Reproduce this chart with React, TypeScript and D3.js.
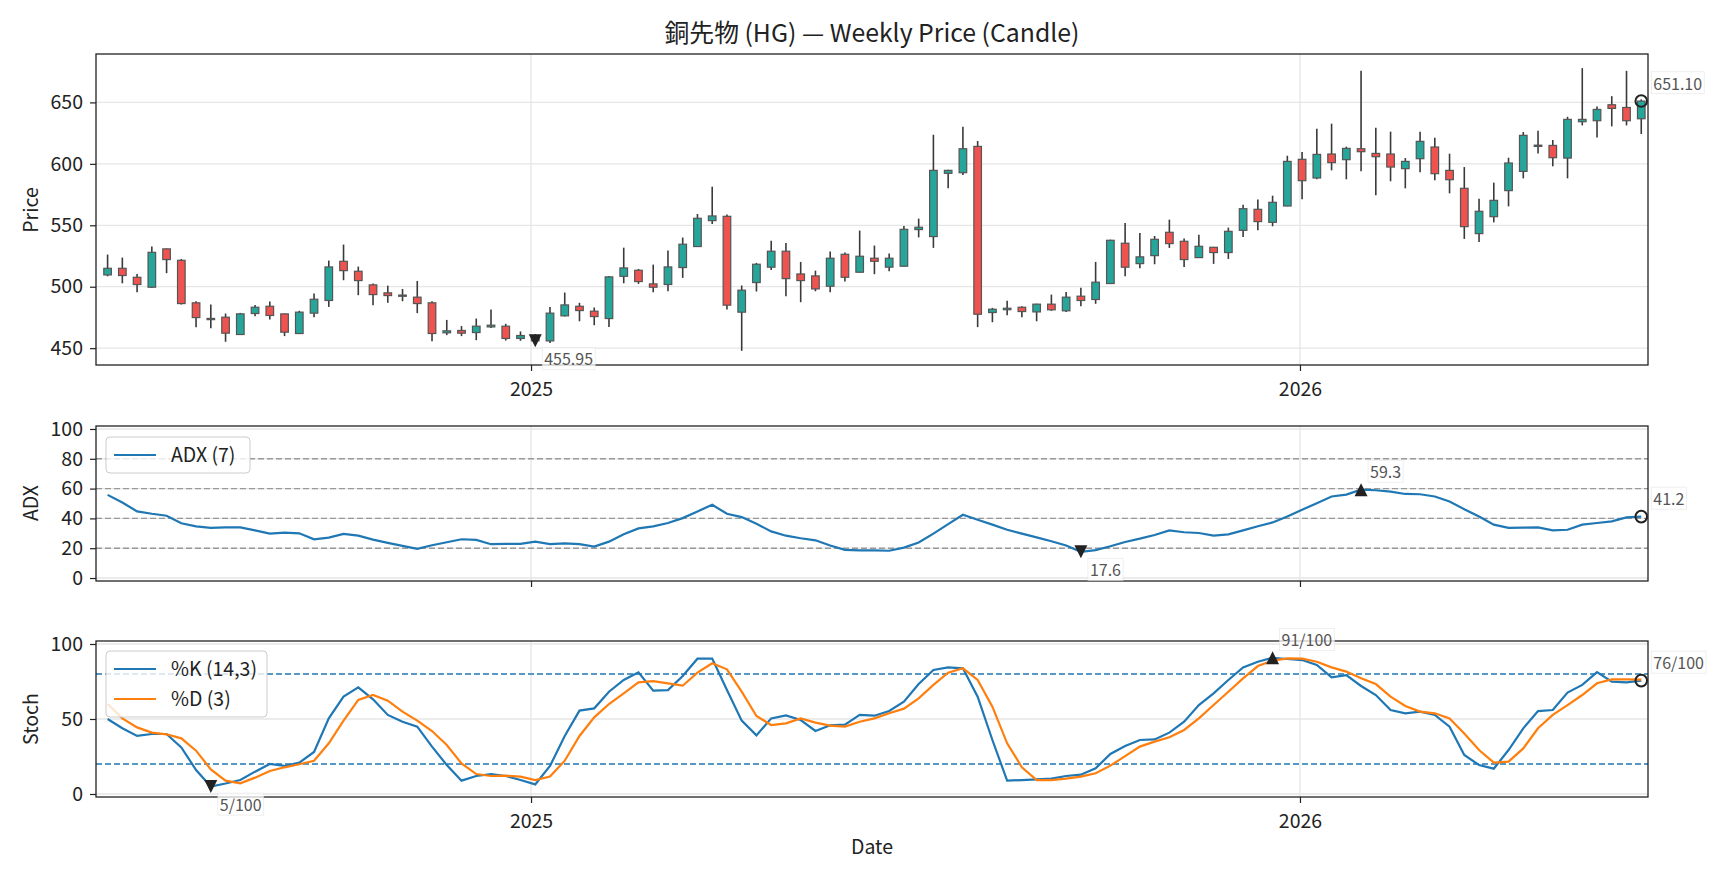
import React, { useEffect, useRef } from 'react';
import * as d3 from 'd3';

// weekly bars, Fridays
const weeks = d3.utcFriday.range(new Date(Date.UTC(2024, 5, 14)), new Date(Date.UTC(2026, 5, 13)));

const open = [
  509.6, 515.0, 507.7, 499.6, 530.8, 521.5, 486.9, 474.2, 475.2, 461.1,
  478.2, 484.1, 477.9, 461.9, 478.5, 488.8, 520.7, 512.6, 501.5, 495.0,
  492.8, 491.5, 486.9, 462.5, 464.4, 462.7, 467.3, 467.9, 457.9, 460.3,
  455.9, 476.3, 484.1, 480.1, 474.1, 508.5, 513.4, 502.3, 501.8, 515.6,
  532.7, 553.8, 557.3, 479.3, 503.4, 515.9, 528.9, 510.4, 508.8, 500.4,
  526.4, 511.8, 523.2, 515.9, 516.7, 546.5, 540.8, 592.3, 592.8, 614.2,
  479.0, 481.3, 483.3, 479.5, 485.8, 480.4, 492.3, 489.6, 502.6, 535.4,
  518.8, 525.3, 544.3, 537.0, 523.7, 532.1, 527.8, 545.9, 563.0, 552.4,
  565.7, 603.7, 588.5, 608.0, 603.4, 612.3, 608.5, 608.0, 596.1, 604.2,
  613.7, 594.7, 580.1, 543.2, 557.0, 578.2, 593.9, 615.2, 615.0, 604.7,
  634.3, 635.1, 648.1, 645.9, 636.7,
];
const high = [
  526.2, 523.7, 510.4, 532.7, 531.0, 522.6, 488.2, 485.5, 478.2, 478.7,
  485.2, 487.9, 478.0, 480.4, 494.4, 521.3, 534.3, 516.4, 502.6, 500.9,
  498.2, 504.7, 488.2, 473.0, 468.0, 474.1, 481.4, 469.8, 463.6, 461.5,
  483.6, 495.3, 486.9, 483.1, 508.8, 531.8, 514.5, 518.0, 529.4, 540.0,
  559.2, 581.4, 558.7, 501.0, 519.4, 537.5, 535.6, 520.2, 513.1, 528.6,
  527.8, 545.7, 533.5, 527.0, 549.5, 555.4, 623.7, 595.2, 630.2, 618.6,
  482.8, 488.5, 484.1, 486.2, 493.6, 495.8, 499.1, 520.2, 538.3, 551.9,
  543.8, 541.3, 554.6, 539.2, 542.4, 532.4, 548.1, 566.8, 570.9, 574.1,
  606.6, 609.6, 628.6, 632.7, 614.0, 675.7, 629.4, 626.2, 604.7, 626.2,
  621.3, 608.3, 597.4, 571.7, 584.7, 605.0, 625.9, 627.0, 619.4, 638.3,
  677.9, 646.7, 655.1, 675.7, 652.5,
];
const low = [
  508.5, 502.8, 495.5, 499.0, 511.0, 485.5, 467.1, 466.3, 455.2, 460.8,
  476.0, 473.3, 459.8, 461.5, 475.2, 483.6, 505.3, 493.1, 485.0, 486.9,
  488.2, 478.5, 455.7, 460.6, 459.8, 456.5, 466.5, 456.2, 456.0, 454.6,
  454.3, 475.8, 471.9, 468.7, 467.3, 502.8, 502.3, 495.5, 496.3, 507.2,
  532.5, 551.1, 481.4, 447.8, 496.1, 513.7, 492.3, 487.4, 496.3, 495.5,
  504.2, 511.5, 510.2, 512.6, 516.5, 540.2, 531.6, 580.1, 590.9, 467.1,
  471.1, 476.8, 475.2, 471.9, 480.4, 479.5, 484.1, 486.1, 502.4, 508.5,
  515.0, 518.3, 531.6, 516.1, 523.5, 518.6, 522.6, 540.5, 545.9, 549.2,
  565.5, 571.1, 587.4, 594.7, 587.4, 593.9, 574.4, 585.8, 580.1, 593.1,
  586.6, 576.0, 538.9, 536.5, 552.4, 565.4, 588.2, 608.5, 598.0, 588.2,
  631.3, 621.5, 630.5, 631.3, 624.3,
];
const close = [
  515.0, 509.1, 501.8, 528.0, 522.1, 486.3, 474.9, 473.8, 462.2, 477.9,
  483.3, 476.6, 463.0, 479.3, 489.8, 516.1, 513.1, 505.0, 493.6, 492.8,
  493.2, 486.3, 461.9, 464.1, 462.2, 467.9, 468.7, 457.9, 460.3, 455.95,
  478.5, 485.2, 480.6, 475.7, 508.0, 515.3, 504.2, 499.6, 516.1, 534.6,
  555.7, 557.6, 485.0, 497.2, 518.3, 528.9, 506.6, 505.0, 498.2, 523.2,
  507.7, 524.8, 520.7, 523.2, 546.7, 548.4, 594.7, 594.7, 612.3, 477.6,
  481.7, 482.5, 479.8, 485.8, 481.2, 491.5, 488.8, 503.7, 537.8, 515.9,
  524.3, 538.6, 535.1, 522.1, 532.9, 527.8, 545.1, 563.5, 553.0, 568.7,
  602.0, 586.3, 607.7, 601.0, 612.6, 609.9, 605.8, 597.4, 602.0, 618.3,
  592.0, 587.1, 548.9, 561.4, 570.3, 600.7, 623.2, 614.6, 605.0, 636.2,
  636.2, 644.3, 645.1, 635.1, 651.1,
];

const adx = [
  55.8, 50.7, 44.7, 43.1, 41.8, 36.7, 34.7, 33.6, 34.0, 34.0,
  32.0, 29.8, 30.4, 30.0, 26.0, 27.1, 29.6, 28.4, 25.8, 23.6,
  21.6, 19.6, 22.0, 24.0, 26.0, 25.6, 22.7, 22.9, 22.9, 24.4,
  22.7, 23.3, 22.7, 21.1, 24.4, 29.3, 33.3, 34.7, 36.9, 40.2,
  44.7, 49.1, 43.1, 40.9, 36.4, 31.3, 28.4, 26.7, 25.3, 21.8,
  18.9, 18.6, 18.5, 18.3, 20.4, 23.8, 29.8, 36.2, 42.4, 39.1,
  35.8, 32.4, 29.8, 27.3, 24.7, 21.8, 17.6, 18.7, 21.3, 24.2,
  26.4, 28.9, 32.0, 30.7, 30.2, 28.4, 29.3, 32.0, 34.7, 37.3,
  41.3, 45.8, 50.2, 54.7, 56.0, 59.3, 58.9, 58.0, 56.4, 56.2,
  54.7, 51.3, 46.2, 41.3, 35.8, 33.6, 33.8, 34.0, 32.0, 32.4,
  35.8, 36.9, 38.0, 40.7, 41.2,
];

const stochK = [
  50.0, 43.8, 38.7, 40.0, 40.0, 31.1, 16.0, 5.0, 7.0, 9.3,
  14.9, 20.0, 18.7, 20.9, 28.0, 50.4, 64.9, 71.1, 63.1, 52.7,
  48.2, 44.9, 31.6, 19.3, 8.9, 12.0, 13.3, 12.0, 9.3, 6.4,
  18.7, 38.7, 55.6, 57.1, 68.2, 76.0, 81.1, 68.9, 69.3, 78.7,
  90.2, 90.3, 69.3, 48.9, 39.1, 50.4, 52.4, 49.3, 42.0, 45.8,
  46.2, 52.7, 52.2, 55.3, 61.6, 73.3, 82.7, 84.4, 83.8, 64.9,
  36.0, 8.9, 9.3, 9.8, 10.2, 12.0, 12.9, 17.1, 26.7, 32.0,
  36.0, 36.4, 40.9, 48.2, 59.3, 67.1, 76.0, 84.4, 88.2, 90.8,
  90.0, 89.3, 86.0, 77.8, 79.3, 72.0, 66.0, 56.0, 53.8, 54.9,
  52.7, 44.9, 26.0, 19.3, 16.9, 29.3, 43.8, 55.3, 56.0, 67.6,
  72.7, 81.3, 74.9, 74.4, 75.6,
];
const stochD = [
  60.0, 50.4, 44.4, 40.9, 39.8, 37.1, 28.9, 16.4, 8.9, 7.1,
  10.9, 15.3, 17.8, 19.8, 22.2, 33.8, 48.9, 62.7, 66.0, 62.2,
  54.9, 48.9, 42.0, 32.7, 20.4, 13.3, 12.0, 12.2, 11.6, 9.3,
  11.6, 22.2, 38.7, 51.1, 60.0, 67.1, 74.4, 75.3, 73.8, 72.2,
  80.9, 87.1, 83.1, 68.2, 52.0, 46.0, 47.1, 50.4, 47.6, 45.6,
  44.9, 48.2, 50.4, 53.8, 56.9, 63.8, 72.7, 80.9, 83.8, 76.0,
  58.2, 33.8, 17.8, 9.3, 9.3, 10.2, 11.6, 13.8, 18.9, 25.3,
  31.6, 34.9, 37.8, 42.7, 50.4, 59.3, 68.2, 77.1, 85.3, 88.9,
  90.4, 90.2, 88.2, 84.4, 81.6, 77.1, 73.3, 64.9, 58.7, 54.9,
  53.8, 50.4, 40.4, 29.3, 20.9, 21.6, 30.4, 43.8, 52.7, 59.3,
  66.0, 73.8, 76.4, 76.4, 76.2,
];

const priceTicks = [450, 500, 550, 600, 650];
const adxTicks = [0, 20, 40, 60, 80, 100];
const adxLevels = [20, 40, 60, 80];
const stochTicks = [0, 50, 100];
const stochLevels = [20, 80];
const yearTicks = [new Date(Date.UTC(2025, 0, 1)), new Date(Date.UTC(2026, 0, 1))];

const W = 1728;
const H = 878;
const L = 96;
const R = 1648;
const FONT = '"Noto Sans CJK JP", "Noto Sans", sans-serif';
const UP = '#26a69a';
const DOWN = '#ef5350';
const BLUE = '#1f77b4';
const ORANGE = '#ff7f0e';
const DAY = 864e5;

type G = d3.Selection<SVGGElement, unknown, null, undefined>;

const App: React.FC = () => {
  const svgRef = useRef<SVGSVGElement>(null);

  useEffect(() => {
    if (!svgRef.current) return;
    const svg = d3.select(svgRef.current);
    svg.selectAll('*').remove();

    const x = d3.scaleUtc()
      .domain([new Date(+weeks[0] - 5.5 * DAY), new Date(+weeks[weeks.length - 1] + 3.2 * DAY)])
      .range([L, R]);

    const lo = d3.min(low)!;
    const hi = d3.max(high)!;
    const pad = (hi - lo) * 0.05;
    const yPrice = d3.scaleLinear().domain([lo - pad, hi + pad]).range([365, 54]);
    const yAdx = d3.scaleLinear().domain([-2, 102]).range([581, 426]);
    const yStoch = d3.scaleLinear().domain([-2, 102]).range([797, 641]);

    svg.append('rect').attr('width', W).attr('height', H).attr('fill', '#fff');

    const grid = (g: G, y: d3.ScaleLinear<number, number>, ticks: number[], top: number, bottom: number) => {
      g.append('g').selectAll('line').data(ticks).join('line')
        .attr('x1', L).attr('x2', R)
        .attr('y1', d => y(d)).attr('y2', d => y(d))
        .attr('stroke', '#e6e6e6').attr('stroke-width', 1.3);
      g.append('g').selectAll('line').data(yearTicks).join('line')
        .attr('x1', d => x(d)).attr('x2', d => x(d))
        .attr('y1', top).attr('y2', bottom)
        .attr('stroke', '#e6e6e6').attr('stroke-width', 1.3);
    };

    const axes = (g: G, y: d3.ScaleLinear<number, number>, ticks: number[], top: number, bottom: number, labels: boolean) => {
      const ya = g.append('g').attr('transform', `translate(${L},0)`)
        .call(d3.axisLeft(y).tickValues(ticks).tickSize(6).tickPadding(7));
      const xa = g.append('g').attr('transform', `translate(0,${bottom})`)
        .call(d3.axisBottom(x).tickValues(yearTicks).tickSize(6).tickPadding(11)
          .tickFormat(d => (labels ? d3.utcFormat('%Y')(d as Date) : '')));
      [ya, xa].forEach(a => {
        a.attr('font-size', 19.5).attr('font-family', FONT);
        a.select('.domain').remove();
        a.selectAll('line').attr('stroke', '#222').attr('stroke-width', 1.2);
        a.selectAll('text').attr('fill', '#222');
      });
      g.append('rect')
        .attr('x', L).attr('y', top).attr('width', R - L).attr('height', bottom - top)
        .attr('fill', 'none').attr('stroke', '#222').attr('stroke-width', 1.3);
    };

    const yLabel = (text: string, cy: number) => {
      svg.append('text')
        .attr('transform', `translate(38,${cy}) rotate(-90)`)
        .attr('text-anchor', 'middle')
        .attr('font-family', FONT).attr('font-size', 19.5).attr('fill', '#222')
        .text(text);
    };

    // marker + value label; min labels go below, the others above
    const annotate = (g: G, cx: number, cy: number, label: string, kind: 'min' | 'max' | 'last') => {
      if (kind === 'min') {
        g.append('path').attr('d', `M${cx - 6.5},${cy - 6.5}L${cx + 6.5},${cy - 6.5}L${cx},${cy + 6.5}Z`).attr('fill', '#222');
      } else if (kind === 'max') {
        g.append('path').attr('d', `M${cx - 6.5},${cy + 6.5}L${cx + 6.5},${cy + 6.5}L${cx},${cy - 6.5}Z`).attr('fill', '#222');
      } else {
        g.append('circle').attr('cx', cx).attr('cy', cy).attr('r', 5.8)
          .attr('fill', 'none').attr('stroke', '#222').attr('stroke-width', 2);
      }
      const tx = cx + (kind === 'last' ? 12 : 9);
      const ty = cy + (kind === 'min' ? 19 : -17);
      const box = g.append('rect');
      const t = g.append('text')
        .attr('x', tx).attr('y', ty).attr('dy', '0.35em')
        .attr('font-family', FONT).attr('font-size', 16).attr('fill', '#555')
        .text(label);
      const bb = (t.node() as SVGTextElement).getBBox();
      box.attr('x', bb.x - 2).attr('y', bb.y + 1).attr('width', bb.width + 4).attr('height', bb.height - 2)
        .attr('fill', '#fff').attr('fill-opacity', 0.75)
        .attr('stroke', '#ddd').attr('stroke-opacity', 0.6).attr('stroke-width', 0.8);
    };

    const legend = (g: G, items: { label: string; color: string }[], top: number, width: number) => {
      const rowH = 30;
      const h = items.length * rowH + 6;
      g.append('rect')
        .attr('x', 106).attr('y', top).attr('width', width).attr('height', h).attr('rx', 4)
        .attr('fill', '#fff').attr('fill-opacity', 0.8).attr('stroke', '#cccccc');
      items.forEach((it, i) => {
        const cy = top + 18 + i * rowH;
        g.append('line').attr('x1', 114).attr('x2', 156).attr('y1', cy).attr('y2', cy)
          .attr('stroke', it.color).attr('stroke-width', 2.2);
        g.append('text').attr('x', 171).attr('y', cy).attr('dy', '0.35em')
          .attr('font-family', FONT).attr('font-size', 19.5).attr('fill', '#222')
          .text(it.label);
      });
    };

    // title
    svg.append('text')
      .attr('x', (L + R) / 2).attr('y', 42)
      .attr('text-anchor', 'middle')
      .attr('font-family', FONT).attr('font-size', 24.8).attr('fill', '#222')
      .text('銅先物 (HG) — Weekly Price (Candle)');

    // ---- price panel
    const gp = svg.append('g');
    grid(gp, yPrice, priceTicks, 54, 365);
    const bw = 7.6;
    const candles = gp.append('g').selectAll('g').data(weeks).join('g');
    candles.append('line')
      .attr('x1', d => x(d)).attr('x2', d => x(d))
      .attr('y1', (_, i) => yPrice(high[i])).attr('y2', (_, i) => yPrice(low[i]))
      .attr('stroke', '#3a3a3a').attr('stroke-width', 1.6);
    candles.append('rect')
      .attr('x', d => x(d) - bw / 2).attr('width', bw)
      .attr('y', (_, i) => yPrice(Math.max(open[i], close[i])))
      .attr('height', (_, i) => Math.max(1.2, Math.abs(yPrice(open[i]) - yPrice(close[i]))))
      .attr('fill', (_, i) => (close[i] >= open[i] ? UP : DOWN))
      .attr('stroke', '#555').attr('stroke-width', 1.2);
    axes(gp, yPrice, priceTicks, 54, 365, true);
    const iMinC = d3.minIndex(close);
    const iLast = close.length - 1;
    annotate(gp, x(weeks[iMinC]), yPrice(close[iMinC]), close[iMinC].toFixed(2), 'min');
    annotate(gp, x(weeks[iLast]), yPrice(close[iLast]), close[iLast].toFixed(2), 'last');
    yLabel('Price', 210);

    // ---- ADX panel
    const ga = svg.append('g');
    grid(ga, yAdx, adxTicks, 426, 581);
    ga.append('g').selectAll('line').data(adxLevels).join('line')
      .attr('x1', L).attr('x2', R).attr('y1', d => yAdx(d)).attr('y2', d => yAdx(d))
      .attr('stroke', '#999').attr('stroke-width', 1.4).attr('stroke-dasharray', '6,3');
    ga.append('path')
      .attr('d', d3.line<number>().x((_, i) => x(weeks[i])).y(d => yAdx(d))(adx))
      .attr('fill', 'none').attr('stroke', BLUE).attr('stroke-width', 2.2);
    axes(ga, yAdx, adxTicks, 426, 581, false);
    const iMinA = d3.minIndex(adx);
    const iMaxA = d3.maxIndex(adx);
    annotate(ga, x(weeks[iMinA]), yAdx(adx[iMinA]), adx[iMinA].toFixed(1), 'min');
    annotate(ga, x(weeks[iMaxA]), yAdx(adx[iMaxA]), adx[iMaxA].toFixed(1), 'max');
    annotate(ga, x(weeks[iLast]), yAdx(adx[iLast]), adx[iLast].toFixed(1), 'last');
    legend(ga, [{ label: 'ADX (7)', color: BLUE }], 437, 144);
    yLabel('ADX', 503);

    // ---- stochastic panel
    const gs = svg.append('g');
    grid(gs, yStoch, stochTicks, 641, 797);
    gs.append('g').selectAll('line').data(stochLevels).join('line')
      .attr('x1', L).attr('x2', R).attr('y1', d => yStoch(d)).attr('y2', d => yStoch(d))
      .attr('stroke', BLUE).attr('stroke-width', 1.4).attr('stroke-dasharray', '6,3');
    const stochLine = d3.line<number>().x((_, i) => x(weeks[i])).y(d => yStoch(d));
    gs.append('path').attr('d', stochLine(stochK))
      .attr('fill', 'none').attr('stroke', BLUE).attr('stroke-width', 2.2);
    gs.append('path').attr('d', stochLine(stochD))
      .attr('fill', 'none').attr('stroke', ORANGE).attr('stroke-width', 2.2);
    axes(gs, yStoch, stochTicks, 641, 797, true);
    const iMinK = d3.minIndex(stochK);
    const iMaxK = d3.maxIndex(stochK);
    annotate(gs, x(weeks[iMinK]), yStoch(stochK[iMinK]), `${Math.round(stochK[iMinK])}/100`, 'min');
    annotate(gs, x(weeks[iMaxK]), yStoch(stochK[iMaxK]), `${Math.round(stochK[iMaxK])}/100`, 'max');
    annotate(gs, x(weeks[iLast]), yStoch(stochK[iLast]), `${Math.round(stochK[iLast])}/100`, 'last');
    legend(gs, [{ label: '%K (14,3)', color: BLUE }, { label: '%D (3)', color: ORANGE }], 651, 161);
    yLabel('Stoch', 719);

    svg.append('text')
      .attr('x', (L + R) / 2).attr('y', 854)
      .attr('text-anchor', 'middle')
      .attr('font-family', FONT).attr('font-size', 19.5).attr('fill', '#222')
      .text('Date');
  }, []);

  return (
    <svg
      ref={svgRef}
      width={W}
      height={H}
      style={{ position: 'absolute', left: 0, top: 0, display: 'block' }}
    />
  );
};

export default App;
